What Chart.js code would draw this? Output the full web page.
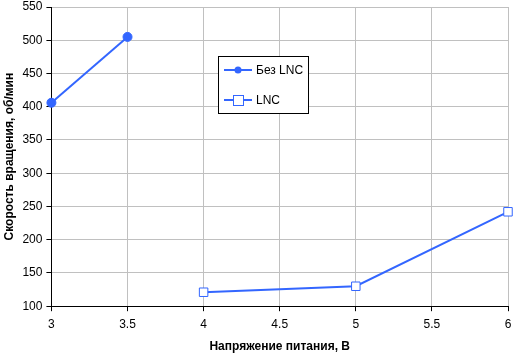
<!DOCTYPE html>
<html>
<head>
<meta charset="utf-8">
<script src="https://cdn.jsdelivr.net/npm/chart.js@4/dist/chart.umd.min.js"></script>
<style>
  html, body { margin: 0; padding: 0; background: #fff; }
  #wrap { width: 515px; height: 356px; }
</style>
</head>
<body>
<div id="wrap"><canvas id="rpmChart" width="515" height="356"></canvas></div>
<script>
// Data
const voltsNoLnc = [3, 3.5];
const rpmNoLnc = [406, 505];
const voltsLnc = [4, 5, 6];
const rpmLnc = [121, 130, 242];
const seriesNames = ["Без LNC", "LNC"];
const xTitle = "Напряжение питания, В";
const yTitle = "Скорость вращения, об/мин";

const lineColor = "#3366ff";
const fontFamily = "'Liberation Sans', Arial, sans-serif";

// Legend drawn as a boxed panel inside the plot, like the original
const boxLegend = {
  id: "boxLegend",
  afterDraw(chart) {
    const ctx = chart.ctx;
    const x0 = 218, y0 = 56, w = 90, h = 57;
    ctx.save();
    ctx.fillStyle = "#fff";
    ctx.fillRect(x0, y0, w, h);
    ctx.strokeStyle = "#000";
    ctx.lineWidth = 1;
    ctx.strokeRect(x0 + 0.5, y0 + 0.5, w, h);

    chart.data.datasets.forEach((ds, i) => {
      const cy = y0 + 14 + i * 30;
      ctx.strokeStyle = ds.borderColor;
      ctx.lineWidth = 2;
      ctx.beginPath();
      ctx.moveTo(x0 + 6, cy);
      ctx.lineTo(x0 + 34, cy);
      ctx.stroke();
      const mx = x0 + 20;
      if (ds.pointStyle === "rect") {
        ctx.fillStyle = "#fff";
        ctx.lineWidth = 1;
        ctx.fillRect(mx - 5, cy - 5, 10, 10);
        ctx.strokeRect(mx - 5 + 0.5, cy - 5 + 0.5, 10, 10);
      } else {
        ctx.fillStyle = ds.borderColor;
        ctx.beginPath();
        ctx.arc(mx, cy, 3.5, 0, Math.PI * 2);
        ctx.fill();
      }
      ctx.fillStyle = "#000";
      ctx.font = "12px " + fontFamily;
      ctx.textBaseline = "middle";
      ctx.fillText(ds.label, x0 + 38, cy + 1);
    });
    ctx.restore();
  },
};

const ctx = document.getElementById("rpmChart").getContext("2d");
new Chart(ctx, {
  type: "line",
  data: {
    datasets: [
      {
        label: seriesNames[0],
        data: voltsNoLnc.map((v, i) => ({ x: v, y: rpmNoLnc[i] })),
        borderColor: lineColor,
        backgroundColor: lineColor,
        borderWidth: 2,
        pointStyle: "circle",
        pointRadius: 4.5,
        pointBorderWidth: 1,
        tension: 0,
        clip: false,
      },
      {
        label: seriesNames[1],
        data: voltsLnc.map((v, i) => ({ x: v, y: rpmLnc[i] })),
        borderColor: lineColor,
        backgroundColor: "#fff",
        borderWidth: 2,
        pointStyle: "rect",
        pointRadius: 6,
        pointBorderWidth: 1,
        tension: 0,
        clip: false,
      },
    ],
  },
  options: {
    responsive: false,
    animation: false,
    layout: { padding: { left: 2, right: 0, top: 0, bottom: 2 } },
    plugins: {
      legend: { display: false },
      tooltip: { enabled: false },
    },
    scales: {
      x: {
        type: "linear",
        min: 3,
        max: 6,
        afterFit: (s) => { s.paddingRight = 5; s.paddingLeft = 0; },
        ticks: {
          stepSize: 0.5,
          color: "#000",
          font: { family: fontFamily, size: 12 },
          padding: 6,
          maxRotation: 0,
          callback: (v) => String(v),
        },
        grid: { color: "#c0c0c0", tickColor: "#000", tickLength: 5 },
        border: { color: "#000", width: 1 },
        title: {
          display: true,
          text: xTitle,
          color: "#000",
          font: { family: fontFamily, size: 12, weight: "bold" },
          padding: { top: 2, bottom: 0 },
        },
      },
      y: {
        min: 100,
        max: 550,
        afterFit: (s) => { s.paddingTop = 5; s.paddingBottom = 0; },
        ticks: {
          stepSize: 50,
          color: "#000",
          font: { family: fontFamily, size: 12 },
          padding: 4,
        },
        grid: { color: "#c0c0c0", tickColor: "#000", tickLength: 5 },
        border: { color: "#000", width: 1 },
        title: {
          display: true,
          text: yTitle,
          color: "#000",
          font: { family: fontFamily, size: 12, weight: "bold" },
          padding: { top: 0, bottom: 2 },
        },
      },
    },
  },
  plugins: [boxLegend],
});
</script>
</body>
</html>
